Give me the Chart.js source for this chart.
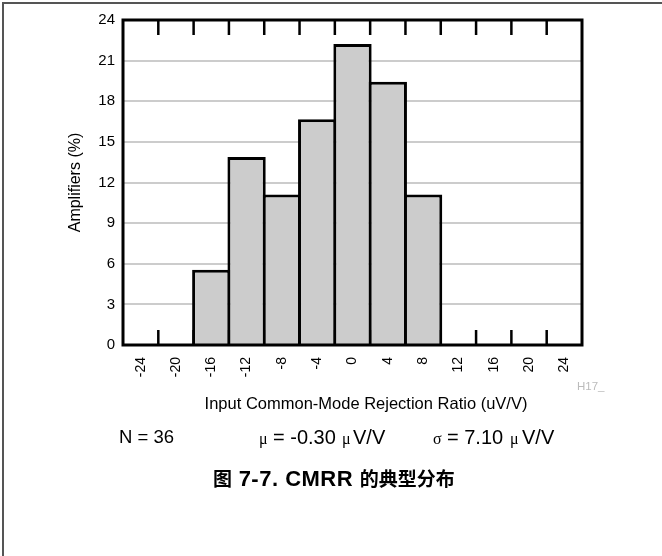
<!DOCTYPE html>
<html>
<head>
<meta charset="utf-8">
<script src="https://cdn.jsdelivr.net/npm/chart.js@4"></script>
<style>
  html, body { margin: 0; padding: 0; background: #fff; }
  #wrap { position: relative; width: 662px; height: 556px; overflow: hidden;
          font-family: "Liberation Sans", Arial, sans-serif; color: #000; }
  #frame { position: absolute; left: 2px; top: 2px; width: 700px; height: 600px;
           border-top: 2px solid #555; border-left: 2px solid #555; }
  #chart { position: absolute; left: 0; top: 0; }
  .txt { position: absolute; white-space: nowrap; }
  .ib { display: inline-block; }
  #xtitle { left: 366px; top: 394px; transform: translateX(-50%); font-size: 16.5px; }
  #code { left: 577px; top: 380px; font-size: 11.5px; color: #bbb; }
  .stats { top: 425px; font-size: 20px; line-height: 24px; }
  .greek { font-family: "Liberation Serif", "Times New Roman", serif; font-size: 16px; }
  #caption { left: 213px; top: 465px; font-weight: bold; line-height: 26px; }
  #caption .cjk { font-family: "Noto Sans CJK SC", sans-serif; font-size: 19px; }
  #caption .lat { font-size: 22px; letter-spacing: 0.5px; }
</style>
</head>
<body>
<div id="wrap">
  <div id="frame"></div>
  <canvas id="chart" width="662" height="556"></canvas>
  <div class="txt" id="xtitle">Input Common-Mode Rejection Ratio (uV/V)</div>
  <div class="txt" id="code">H17_</div>
  <div class="txt stats" style="left:119px; font-size:18.5px">N = 36</div>
  <div class="txt stats" style="left:259px"><span class="ib greek" style="width:14px">μ</span><span class="ib" style="width:69px">= -0.30</span><span class="ib greek" style="width:11px">μ</span>V/V</div>
  <div class="txt stats" style="left:433px"><span class="ib greek" style="width:14px">σ</span><span class="ib" style="width:63px">= 7.10</span><span class="ib greek" style="width:12px">μ</span>V/V</div>
  <div class="txt" id="caption"><span class="cjk">图</span><span class="lat"> 7-7. CMRR </span><span class="cjk">的典型分布</span></div>
</div>
<script>
// Bin centres (uV/V) of the CMRR histogram
const binLabels = ['-24', '-20', '-16', '-12', '-8', '-4', '0', '4', '8', '12', '16', '20', '24'];
// Share of amplifiers in each bin (%), N = 36
const amplifierPct = [0, 0, 5.56, 13.89, 11.11, 16.67, 22.22, 19.44, 11.11, 0, 0, 0, 0];
// Y axis range and step (%)
const yMin = 0, yMax = 24, yStep = 3;

const sansFamily = '"Liberation Sans", Arial, sans-serif';

// Short tick marks on the top and bottom edges at each bin boundary
const binEdgeTicks = {
  id: 'binEdgeTicks',
  beforeDatasetsDraw(chart) {
    const { ctx, chartArea: a, scales: { x } } = chart;
    const half = (x.getPixelForValue(1) - x.getPixelForValue(0)) / 2;
    ctx.save();
    ctx.strokeStyle = '#000';
    ctx.lineWidth = 2.5;
    for (let i = 0; i < binLabels.length - 1; i++) {
      const px = x.getPixelForValue(i) + half;
      ctx.beginPath();
      ctx.moveTo(px, a.top);
      ctx.lineTo(px, a.top + 15);
      ctx.moveTo(px, a.bottom);
      ctx.lineTo(px, a.bottom - 15);
      ctx.stroke();
    }
    ctx.restore();
  }
};

// Heavy black box around the plot area
const plotBox = {
  id: 'plotBox',
  afterDatasetsDraw(chart) {
    const { ctx, chartArea: a } = chart;
    ctx.save();
    ctx.strokeStyle = '#000';
    ctx.lineWidth = 3;
    ctx.strokeRect(a.left, a.top, a.right - a.left, a.bottom - a.top);
    ctx.restore();
  }
};

new Chart(document.getElementById('chart'), {
  type: 'bar',
  data: {
    labels: binLabels,
    datasets: [{
      data: amplifierPct,
      backgroundColor: '#cccccc',
      borderColor: '#000',
      borderWidth: 3,
      borderSkipped: 'start',
      categoryPercentage: 1,
      barPercentage: 1.085
    }]
  },
  options: {
    responsive: false,
    animation: false,
    layout: { padding: { left: 66, top: 20, right: 80, bottom: 0 } },
    plugins: { legend: { display: false }, tooltip: { enabled: false } },
    scales: {
      x: {
        offset: true,
        grid: { display: false },
        border: { display: false },
        ticks: {
          autoSkip: false, minRotation: 90, maxRotation: 90, padding: 4,
          color: '#000', font: { family: sansFamily, size: 14 }
        },
        afterFit(scale) { scale.height = 556 - 345; }
      },
      y: {
        min: yMin, max: yMax,
        border: { display: false },
        grid: {
          drawTicks: false,
          lineWidth: 2,
          color: (c) => (c.tick && (c.tick.value === yMin || c.tick.value === yMax)) ? 'rgba(0,0,0,0)' : '#cccccc'
        },
        ticks: {
          stepSize: yStep, padding: 8, color: '#000',
          font: { family: sansFamily, size: 15 }
        },
        title: {
          display: true, text: 'Amplifiers (%)', color: '#000', padding: 0,
          font: { family: sansFamily, size: 16 }
        },
        afterFit(scale) { scale.width = 57; }
      }
    }
  },
  plugins: [binEdgeTicks, plotBox]
});
</script>
</body>
</html>
